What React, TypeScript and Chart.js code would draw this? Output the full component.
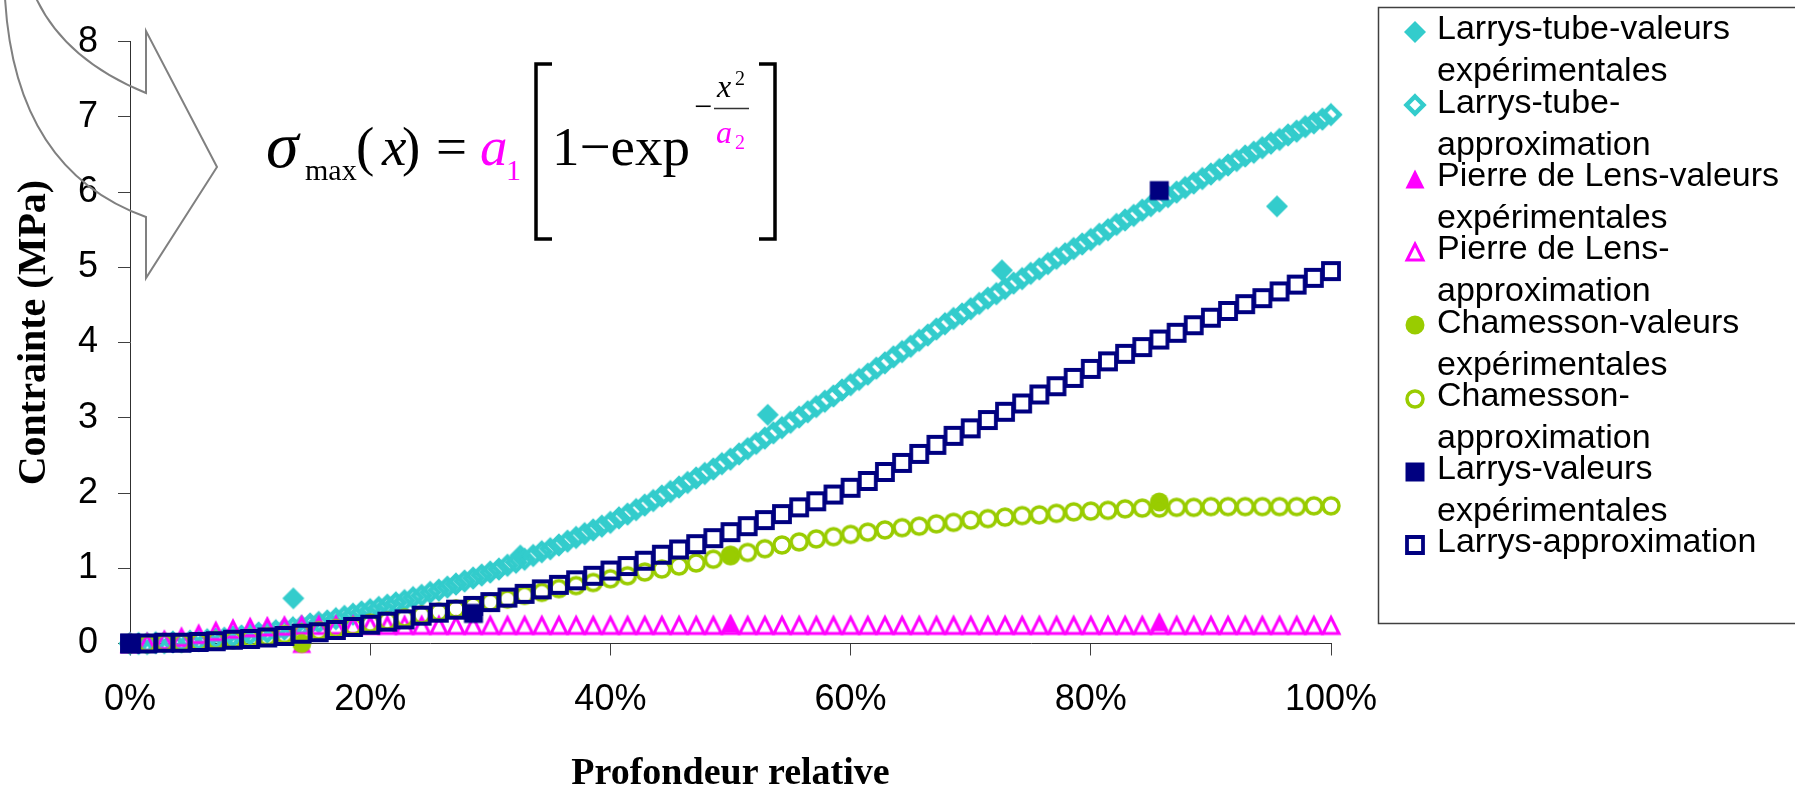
import { useEffect, useRef } from 'react';
import { Chart, registerables } from 'chart.js';

Chart.register(...registerables);

// ---------- data ----------
const xTickLabels = ['0%', '20%', '40%', '60%', '80%', '100%'];
const yTickLabels = ['0', '1', '2', '3', '4', '5', '6', '7', '8'];

const legendLines = [
  ['Larrys-tube-valeurs', 'expérimentales'],
  ['Larrys-tube-', 'approximation'],
  ['Pierre de Lens-valeurs', 'expérimentales'],
  ['Pierre de Lens-', 'approximation'],
  ['Chamesson-valeurs', 'expérimentales'],
  ['Chamesson-', 'approximation'],
  ['Larrys-valeurs', 'expérimentales'],
  ['Larrys-approximation'],
];

// experimental values (x in %)
const larrysTubeExpX = [0, 13.6, 32.5, 53.1, 72.6, 95.5];
const larrysTubeExpY = [0, 0.6, 1.17, 3.04, 4.96, 5.81];
const pierreExpX = [0, 14.3, 50, 85.7];
const pierreExpY = [0, 0.0, 0.27, 0.29];
const chamessonExpX = [0, 14.3, 50, 85.7];
const chamessonExpY = [0, 0.0, 1.17, 1.88];
const larrysExpX = [0, 28.6, 85.7];
const larrysExpY = [0, 0.4, 6.02];

// approximations (evenly spaced depths from 0% to 100%)
const larrysTubeApprox = [
  0, 0, 0, 0.01, 0.01, 0.02, 0.02, 0.03, 0.04, 0.05,
  0.06, 0.07, 0.09, 0.1, 0.12, 0.14, 0.15, 0.17, 0.19, 0.21,
  0.23, 0.26, 0.28, 0.3, 0.33, 0.36, 0.39, 0.42, 0.45, 0.48,
  0.51, 0.54, 0.57, 0.61, 0.64, 0.68, 0.71, 0.75, 0.79, 0.83,
  0.87, 0.91, 0.95, 0.99, 1.04, 1.08, 1.12, 1.17, 1.22, 1.26,
  1.31, 1.36, 1.41, 1.46, 1.51, 1.56, 1.61, 1.67, 1.72, 1.78,
  1.84, 1.9, 1.96, 2.02, 2.08, 2.14, 2.2, 2.26, 2.32, 2.39,
  2.45, 2.52, 2.59, 2.66, 2.73, 2.8, 2.87, 2.94, 3.01, 3.08,
  3.15, 3.22, 3.29, 3.37, 3.44, 3.51, 3.58, 3.66, 3.73, 3.81,
  3.88, 3.95, 4.03, 4.1, 4.18, 4.25, 4.32, 4.38, 4.45, 4.52,
  4.59, 4.65, 4.72, 4.79, 4.85, 4.92, 4.98, 5.05, 5.12, 5.18,
  5.25, 5.31, 5.37, 5.44, 5.5, 5.57, 5.63, 5.69, 5.76, 5.82,
  5.88, 5.94, 6.0, 6.06, 6.12, 6.18, 6.24, 6.3, 6.36, 6.42,
  6.48, 6.53, 6.59, 6.65, 6.7, 6.76, 6.81, 6.87, 6.92, 6.97,
  7.03,
];
const pierreApprox = [
  0, 0.01, 0.04, 0.08, 0.12, 0.16, 0.19, 0.21, 0.22, 0.23,
  0.24, 0.24, 0.24, 0.24, 0.24, 0.24, 0.24, 0.24, 0.24, 0.24,
  0.24, 0.24, 0.24, 0.24, 0.24, 0.24, 0.24, 0.24, 0.24, 0.24,
  0.24, 0.24, 0.24, 0.24, 0.24, 0.24, 0.24, 0.24, 0.24, 0.24,
  0.24, 0.24, 0.24, 0.24, 0.24, 0.24, 0.24, 0.24, 0.24, 0.24,
  0.24, 0.24, 0.24, 0.24, 0.24, 0.24, 0.24, 0.24, 0.24, 0.24,
  0.24, 0.24, 0.24, 0.24, 0.24, 0.24, 0.24, 0.24, 0.24, 0.24,
  0.24,
];
const chamessonApprox = [
  0, 0, 0.01, 0.01, 0.02, 0.04, 0.05, 0.07, 0.09, 0.12,
  0.14, 0.17, 0.2, 0.23, 0.27, 0.3, 0.34, 0.38, 0.42, 0.46,
  0.5, 0.55, 0.59, 0.64, 0.68, 0.73, 0.77, 0.81, 0.86, 0.9,
  0.95, 0.99, 1.03, 1.07, 1.12, 1.17, 1.21, 1.26, 1.31, 1.35,
  1.39, 1.42, 1.45, 1.48, 1.51, 1.54, 1.56, 1.59, 1.61, 1.64,
  1.66, 1.68, 1.7, 1.71, 1.73, 1.75, 1.76, 1.77, 1.79, 1.8,
  1.8, 1.81, 1.81, 1.82, 1.82, 1.82, 1.82, 1.82, 1.82, 1.83,
  1.83,
];
const larrysApprox = [
  0, 0, 0.01, 0.01, 0.02, 0.03, 0.05, 0.06, 0.08, 0.1,
  0.13, 0.15, 0.18, 0.22, 0.25, 0.29, 0.32, 0.37, 0.41, 0.45,
  0.5, 0.55, 0.61, 0.66, 0.72, 0.78, 0.84, 0.9, 0.97, 1.03,
  1.1, 1.18, 1.25, 1.32, 1.4, 1.48, 1.56, 1.64, 1.72, 1.81,
  1.89, 1.98, 2.07, 2.16, 2.28, 2.4, 2.52, 2.64, 2.76, 2.86,
  2.97, 3.08, 3.19, 3.31, 3.42, 3.53, 3.65, 3.75, 3.85, 3.94,
  4.04, 4.13, 4.23, 4.33, 4.42, 4.51, 4.59, 4.68, 4.77, 4.86,
  4.95,
];

const COLORS = {
  cyan: '#33CCCC',
  magenta: '#FF00FF',
  green: '#99CC00',
  navy: '#000080',
};

const SANS = "'Liberation Sans', Arial, sans-serif";
const SERIF = "'Liberation Serif', 'Times New Roman', serif";

const evenX = (arr: number[]) => arr.map((_, i) => (i * 100) / (arr.length - 1));
const zip = (xs: number[], ys: number[]) => xs.map((x, i) => ({ x, y: ys[i] }));

function makeMarker(kind: string, color: string, size: number, filled: boolean, lw = 3) {
  let dim = Math.ceil(size + 2 * (lw + 4));
  if (dim % 2) dim += 1;
  const c = document.createElement('canvas');
  c.width = dim;
  c.height = dim;
  const ctx = c.getContext('2d')!;
  const cx = dim / 2;
  const cy = dim / 2;
  const h = size / 2;
  ctx.beginPath();
  if (kind === 'diamond') {
    ctx.moveTo(cx, cy - h);
    ctx.lineTo(cx + h, cy);
    ctx.lineTo(cx, cy + h);
    ctx.lineTo(cx - h, cy);
    ctx.closePath();
  } else if (kind === 'triangle') {
    ctx.moveTo(cx, cy - h);
    ctx.lineTo(cx + h, cy + h);
    ctx.lineTo(cx - h, cy + h);
    ctx.closePath();
  } else if (kind === 'circle') {
    ctx.arc(cx, cy, h, 0, Math.PI * 2);
  } else {
    ctx.rect(cx - h, cy - h, size, size);
  }
  if (filled) {
    ctx.fillStyle = color;
    ctx.fill();
  } else {
    ctx.strokeStyle = color;
    ctx.lineWidth = lw;
    ctx.lineJoin = 'miter';
    ctx.stroke();
  }
  return c;
}

export default function App() {
  const ref = useRef<HTMLCanvasElement | null>(null);

  useEffect(() => {
    document.body.style.margin = '0';
    const canvas = ref.current!;

    const mk = [
      makeMarker('diamond', COLORS.cyan, 22, true),
      makeMarker('diamond', COLORS.cyan, 17, false, 4.5),
      makeMarker('triangle', COLORS.magenta, 19, true),
      makeMarker('triangle', COLORS.magenta, 16, false, 3),
      makeMarker('circle', COLORS.green, 19, true),
      makeMarker('circle', COLORS.green, 16, false, 3.5),
      makeMarker('square', COLORS.navy, 19, true),
      makeMarker('square', COLORS.navy, 16, false, 3.8),
    ];

    const seriesData = [
      zip(larrysTubeExpX, larrysTubeExpY),
      zip(evenX(larrysTubeApprox), larrysTubeApprox),
      zip(pierreExpX, pierreExpY),
      zip(evenX(pierreApprox), pierreApprox),
      zip(chamessonExpX, chamessonExpY),
      zip(evenX(chamessonApprox), chamessonApprox),
      zip(larrysExpX, larrysExpY),
      zip(evenX(larrysApprox), larrysApprox),
    ];

    const datasets = seriesData.map((data, i) => ({
      label: legendLines[i].join(' '),
      data,
      pointStyle: mk[i] as any,
      pointRadius: 10,
      pointHoverRadius: 10,
      showLine: false,
      clip: false as any,
      order: 7 - i,
    }));

    const decor = {
      id: 'decor',
      afterDraw(chart: any) {
        const ctx = chart.ctx as CanvasRenderingContext2D;
        ctx.save();
        // curved arrow shape
        ctx.strokeStyle = '#808080';
        ctx.lineWidth = 2;
        ctx.lineJoin = 'miter';
        ctx.beginPath();
        ctx.moveTo(36, -2);
        ctx.quadraticCurveTo(65, 60, 146, 93);
        ctx.lineTo(146, 31);
        ctx.lineTo(217, 167);
        ctx.lineTo(146, 278);
        ctx.lineTo(146, 217);
        ctx.quadraticCurveTo(15, 170, 5, -2);
        ctx.stroke();

        // formula
        ctx.textAlign = 'left';
        ctx.textBaseline = 'alphabetic';
        ctx.fillStyle = '#000';
        ctx.font = `italic 66px ${SERIF}`;
        ctx.fillText('σ', 266, 167);
        ctx.font = `30px ${SERIF}`;
        ctx.fillText('max', 305, 180);
        ctx.font = `55px ${SERIF}`;
        ctx.fillText('(', 356, 165);
        ctx.font = `italic 55px ${SERIF}`;
        ctx.fillText('x', 382, 165);
        ctx.font = `55px ${SERIF}`;
        ctx.fillText(')', 402, 165);
        ctx.fillText('=', 436, 165);
        ctx.fillStyle = COLORS.magenta;
        ctx.font = `italic 55px ${SERIF}`;
        ctx.fillText('a', 480, 165);
        ctx.font = `30px ${SERIF}`;
        ctx.fillText('1', 506, 180);
        ctx.fillStyle = '#000';
        ctx.font = `55px ${SERIF}`;
        ctx.fillText('1−exp', 552, 165);
        ctx.font = `32px ${SERIF}`;
        ctx.fillText('−', 694, 117);
        ctx.font = `italic 32px ${SERIF}`;
        ctx.fillText('x', 717, 97);
        ctx.font = `20px ${SERIF}`;
        ctx.fillText('2', 735, 85);
        ctx.fillStyle = COLORS.magenta;
        ctx.font = `italic 32px ${SERIF}`;
        ctx.fillText('a', 716, 143);
        ctx.font = `20px ${SERIF}`;
        ctx.fillText('2', 735, 149);
        ctx.strokeStyle = '#333';
        ctx.lineWidth = 1.5;
        ctx.beginPath();
        ctx.moveTo(714, 108.5);
        ctx.lineTo(749, 108.5);
        ctx.stroke();
        // brackets
        ctx.strokeStyle = '#000';
        ctx.lineWidth = 3.5;
        ctx.beginPath();
        ctx.moveTo(552, 64);
        ctx.lineTo(536, 64);
        ctx.lineTo(536, 239);
        ctx.lineTo(552, 239);
        ctx.moveTo(759, 64);
        ctx.lineTo(775, 64);
        ctx.lineTo(775, 239);
        ctx.lineTo(759, 239);
        ctx.stroke();

        // legend
        ctx.strokeStyle = '#404040';
        ctx.lineWidth = 1.5;
        ctx.strokeRect(1378.5, 7.5, 500, 616);
        ctx.fillStyle = '#000';
        ctx.font = `34px ${SANS}`;
        ctx.textBaseline = 'middle';
        legendLines.forEach((lines, i) => {
          const y = 30 + 73.3 * i;
          const m = mk[i];
          ctx.drawImage(m, Math.round(1415 - m.width / 2), Math.round(y + 2 - m.height / 2));
          lines.forEach((t, k) => ctx.fillText(t, 1437, y + 42 * k));
        });
        ctx.restore();
      },
    };

    const chart = new Chart(canvas, {
      type: 'scatter',
      data: { datasets: datasets as any },
      options: {
        animation: false,
        responsive: false,
        devicePixelRatio: 1,
        layout: { padding: { left: 0, top: 38, right: 464, bottom: 0 } },
        plugins: { legend: { display: false }, tooltip: { enabled: false } },
        scales: {
          x: {
            type: 'linear',
            min: 0,
            max: 100,
            ticks: {
              stepSize: 20,
              autoSkip: false,
              maxRotation: 0,
              padding: 23,
              color: '#000',
              font: { family: SANS, size: 36 },
              callback: (v: any) => xTickLabels[Math.round(Number(v) / 20)],
            },
            grid: { drawOnChartArea: false, drawTicks: true, tickLength: 12, color: '#404040' },
            border: { display: true, color: '#303030', width: 1 },
            title: {
              display: true,
              text: 'Profondeur relative',
              color: '#000',
              font: { family: SERIF, size: 38, weight: 'bold', lineHeight: 1 },
              padding: { top: 0, bottom: 0 },
            },
            afterFit: (s: any) => {
              s.height = 149.5;
            },
          },
          y: {
            type: 'linear',
            min: 0,
            max: 8,
            ticks: {
              stepSize: 1,
              padding: 20,
              color: '#000',
              font: { family: SANS, size: 36 },
              callback: (v: any) => yTickLabels[Math.round(Number(v))],
            },
            grid: { drawOnChartArea: false, drawTicks: true, tickLength: 12, color: '#404040' },
            border: { display: true, color: '#303030', width: 1 },
            title: {
              display: true,
              text: '\u00A0\u00A0Contrainte (MPa)',
              color: '#000',
              font: { family: SERIF, size: 40, weight: 'bold', lineHeight: 1 },
              padding: { top: 14.5, bottom: 0 },
            },
            afterFit: (s: any) => {
              s.width = 130;
            },
          },
        },
      },
      plugins: [decor],
    });

    return () => chart.destroy();
  }, []);

  return (
    <canvas
      ref={ref}
      width={1795}
      height={793}
      style={{ display: 'block', width: '1795px', height: '793px' }}
    />
  );
}
